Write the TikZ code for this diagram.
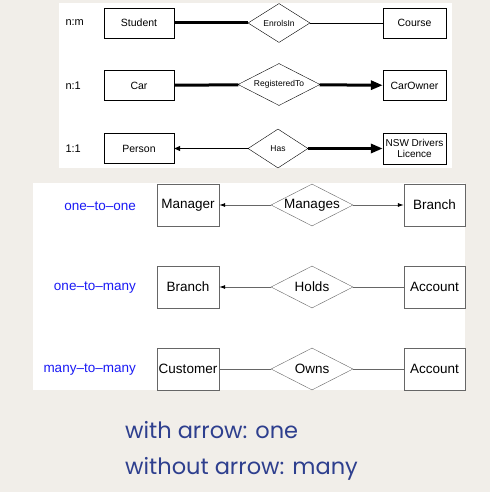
\documentclass[tikz,border=0pt]{standalone}
\usepackage{fontspec}
\setmainfont{Liberation Sans}
\newfontfamily\notefont{Poppins}
\usetikzlibrary{shapes.geometric, arrows.meta}

\definecolor{paper}{HTML}{F1EEE9}
\definecolor{labelblue}{HTML}{1A1AF5}
\definecolor{noteblue}{HTML}{2E3F8E}
\definecolor{linegray}{HTML}{666666}

\begin{document}
\begin{tikzpicture}[x=1pt, y=-1pt,
        ent/.style={draw, rectangle, minimum width=70pt, minimum height=30pt, inner sep=0pt, align=center, font=\fontsize{10.5}{12}\selectfont},
        rel/.style={draw, diamond, aspect=2, minimum width=62pt, minimum height=39pt, inner sep=0pt, font=\fontsize{8.5}{10}\selectfont},
        card/.style={anchor=west, font=\fontsize{11}{13}\selectfont},
        bent/.style={draw=linegray, rectangle, minimum width=62pt, minimum height=42pt, inner sep=0pt, font=\fontsize{13.5}{15}\selectfont},
        brel/.style={draw=linegray, diamond, aspect=2, minimum width=82pt, minimum height=42pt, inner sep=0pt, font=\fontsize{13.5}{15}\selectfont},
        kind/.style={anchor=east, inner sep=0pt, text=labelblue, font=\fontsize{13.5}{15}\selectfont},
        note/.style={anchor=base west, inner sep=0pt, text=noteblue, font=\notefont\fontsize{22.5}{27}\selectfont},
        thin/.style={line width=0.8pt},
        heavy/.style={line width=3pt},
        bline/.style={draw=linegray, line width=0.8pt}]
    \useasboundingbox (0,0) rectangle (490,492);
    \fill[paper] (0,0) rectangle (490,492);

    % top panel
    \fill[white] (59,3) rectangle (452,168);
    \node[card] (nm) at (62,23) {n:m};
    \node[card] (n1) at (62,85.5) {n:1};
    \node[card] (oo) at (62,148.5) {1:1};

    \node[ent] (student) at (139,23) {Student};
    \node[rel] (enrols) at (279,23) {EnrolsIn};
    \node[ent, minimum width=63pt] (course) at (414.5,23) {Course};

    \node[ent] (car) at (139,85.5) {Car};
    \node[rel, minimum width=82pt, minimum height=42pt] (regto) at (279,84.5) {RegisteredTo};
    \node[ent, minimum width=63pt] (owner) at (414.5,85.5) {CarOwner};

    \node[ent] (person) at (139,148.5) {Person};
    \node[rel, minimum width=60pt] (has) at (278,148.5) {Has};
    \node[ent, minimum width=63pt, minimum height=31pt, font=\fontsize{10}{11.5}\selectfont] (licence) at (414.5,148.5) {NSW Drivers\\Licence};

    \draw[heavy] (student) -- (enrols);
    \draw[thin] (enrols) -- (course);
    \draw[heavy] (car) -- (regto);
    \draw[heavy, -{Triangle[length=12pt, width=9pt]}] (regto) -- (owner);
    \draw[thin, -{Triangle[length=6pt, width=5pt]}] (has) -- (person);
    \draw[heavy, -{Triangle[length=12pt, width=9pt]}] (has) -- (licence);

    % bottom panel
    \fill[white] (33,183) rectangle (465,390);
    \node[kind] (k1) at (136,206) {one--to--one};
    \node[kind] (k2) at (136,288) {one--to--many};
    \node[kind] (k3) at (136,370) {many--to--many};

    \node[bent] (manager) at (188,205) {Manager};
    \node[brel] (manages) at (312,205) {Manages};
    \node[bent, minimum width=61pt] (branch) at (434.5,205) {Branch};

    \node[bent] (branch2) at (188,287) {Branch};
    \node[brel] (holds) at (312,287) {Holds};
    \node[bent, minimum width=61pt] (account) at (434.5,287) {Account};

    \node[bent] (customer) at (188,369) {Customer};
    \node[brel] (owns) at (312,369) {Owns};
    \node[bent, minimum width=61pt] (account2) at (434.5,369) {Account};

    \draw[bline, -{Latex[length=6pt, width=4pt, color=black]}] (manages) -- (manager);
    \draw[bline, -{Latex[length=6pt, width=4pt, color=black]}] (manages) -- (branch);
    \draw[bline, -{Latex[length=6pt, width=4pt, color=black]}] (holds) -- (branch2);
    \draw[bline] (holds) -- (account);
    \draw[bline] (customer) -- (owns);
    \draw[bline] (owns) -- (account2);

    % note
    \node[note] (one) at (125,438) {with arrow: one};
    \node[note] (many) at (125,474) {without arrow: many};
\end{tikzpicture}
\end{document}
